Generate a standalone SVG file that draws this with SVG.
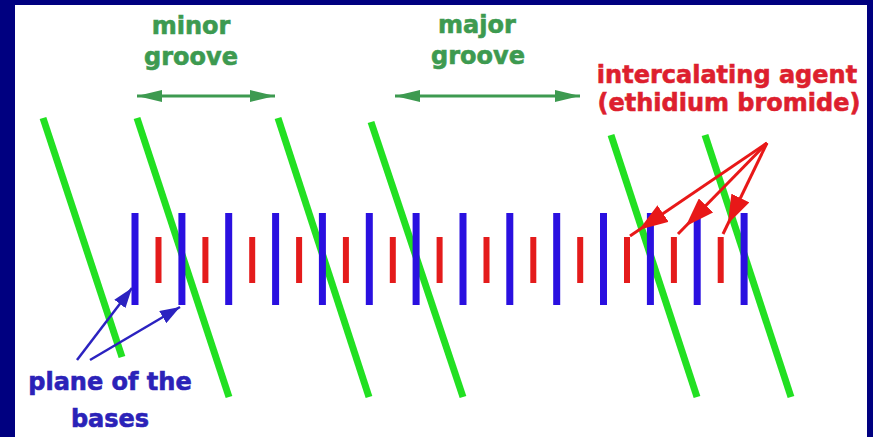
<svg xmlns="http://www.w3.org/2000/svg" width="873" height="437" viewBox="0 0 873 437">
  <defs>
    <style>
      .lbl { font-family: "DejaVu Sans", Verdana, sans-serif; font-weight: bold; font-size: 24px; text-anchor: middle; stroke-width: 0.6; }
      .green-t { fill: #3d9a50; stroke: #3d9a50; }
      .red-t { fill: #dd1f2e; stroke: #dd1f2e; }
      .blue-t { fill: #2b22b8; stroke: #2b22b8; }
      .strand { stroke: #22e022; stroke-width: 7; fill: none; }
      .blue-bar { fill: #2a10e0; }
      .red-bar { fill: #e41b1b; }
      .garrow { stroke: #3d9a50; stroke-width: 3; fill: none; }
      .rarrow { stroke: #e81818; stroke-width: 3; fill: none; }
      .barrow { stroke: #2b22c0; stroke-width: 2.5; fill: none; }
    </style>
    <marker id="gh" markerUnits="userSpaceOnUse" markerWidth="26" markerHeight="14" refX="25" refY="7" orient="auto-start-reverse">
      <path d="M0,1 L25,7 L0,13 z" fill="#3d9a50"/>
    </marker>
    <marker id="rh" markerUnits="userSpaceOnUse" markerWidth="44" markerHeight="20" refX="40" refY="10" orient="auto">
      <path d="M0,0 L29,10 L0,20 z" fill="#e81818"/>
    </marker>
    <marker id="bh" markerUnits="userSpaceOnUse" markerWidth="22" markerHeight="14" refX="20" refY="7" orient="auto">
      <path d="M0,0 L20,7 L0,14 z" fill="#2b22c0"/>
    </marker>
  </defs>

  <rect x="0" y="0" width="873" height="437" fill="#000080"/>
  <rect x="15" y="5" width="852" height="432" fill="#ffffff"/>

  <g id="strands">
    <line class="strand" x1="43" y1="118" x2="122" y2="357"/>
    <line class="strand" x1="137" y1="118" x2="229" y2="397"/>
    <line class="strand" x1="278" y1="118" x2="369" y2="397"/>
    <line class="strand" x1="371" y1="122" x2="463" y2="397"/>
    <line class="strand" x1="611" y1="135" x2="697" y2="397"/>
    <line class="strand" x1="705" y1="135" x2="791" y2="397"/>
  </g>

  <g id="base-planes">
    <rect class="blue-bar" x="131.5" y="213" width="7" height="92"/>
    <rect class="blue-bar" x="178.4" y="213" width="7" height="92"/>
    <rect class="blue-bar" x="225.2" y="213" width="7" height="92"/>
    <rect class="blue-bar" x="272.1" y="213" width="7" height="92"/>
    <rect class="blue-bar" x="318.9" y="213" width="7" height="92"/>
    <rect class="blue-bar" x="365.8" y="213" width="7" height="92"/>
    <rect class="blue-bar" x="412.6" y="213" width="7" height="92"/>
    <rect class="blue-bar" x="459.5" y="213" width="7" height="92"/>
    <rect class="blue-bar" x="506.3" y="213" width="7" height="92"/>
    <rect class="blue-bar" x="553.2" y="213" width="7" height="92"/>
    <rect class="blue-bar" x="600" y="213" width="7" height="92"/>
    <rect class="blue-bar" x="646.9" y="213" width="7" height="92"/>
    <rect class="blue-bar" x="693.7" y="213" width="7" height="92"/>
    <rect class="blue-bar" x="740.6" y="213" width="7" height="92"/>
  </g>

  <g id="intercalators">
    <rect class="red-bar" x="155.5" y="237" width="6" height="46"/>
    <rect class="red-bar" x="202.4" y="237" width="6" height="46"/>
    <rect class="red-bar" x="249.2" y="237" width="6" height="46"/>
    <rect class="red-bar" x="296.1" y="237" width="6" height="46"/>
    <rect class="red-bar" x="342.9" y="237" width="6" height="46"/>
    <rect class="red-bar" x="389.8" y="237" width="6" height="46"/>
    <rect class="red-bar" x="436.6" y="237" width="6" height="46"/>
    <rect class="red-bar" x="483.5" y="237" width="6" height="46"/>
    <rect class="red-bar" x="530.3" y="237" width="6" height="46"/>
    <rect class="red-bar" x="577.2" y="237" width="6" height="46"/>
    <rect class="red-bar" x="624" y="237" width="6" height="46"/>
    <rect class="red-bar" x="670.9" y="237" width="6" height="46"/>
    <rect class="red-bar" x="717.7" y="237" width="6" height="46"/>
  </g>

  <g id="label-minor-groove">
    <text class="lbl green-t" x="191" y="34">minor</text>
    <text class="lbl green-t" x="191" y="65">groove</text>
  </g>
  <g id="label-major-groove">
    <text class="lbl green-t" x="477" y="33">major</text>
    <text class="lbl green-t" x="478" y="64">groove</text>
  </g>
  <g id="label-intercalating-agent">
    <text class="lbl red-t" x="727" y="83">intercalating agent</text>
    <text class="lbl red-t" x="729" y="111">(ethidium bromide)</text>
  </g>
  <g id="label-plane-of-bases">
    <text class="lbl blue-t" x="110" y="390">plane of the</text>
    <text class="lbl blue-t" x="110" y="427">bases</text>
  </g>

  <g id="connectors">
    <line class="garrow" x1="137" y1="96" x2="275" y2="96" marker-start="url(#gh)" marker-end="url(#gh)"/>
    <line class="garrow" x1="395" y1="96" x2="580" y2="96" marker-start="url(#gh)" marker-end="url(#gh)"/>
    <line class="rarrow" x1="767" y1="143" x2="630" y2="236" marker-end="url(#rh)"/>
    <line class="rarrow" x1="767" y1="143" x2="678" y2="234" marker-end="url(#rh)"/>
    <line class="rarrow" x1="767" y1="143" x2="723" y2="234" marker-end="url(#rh)"/>
    <line class="barrow" x1="77" y1="360" x2="132" y2="288" marker-end="url(#bh)"/>
    <line class="barrow" x1="90" y1="360" x2="180" y2="307" marker-end="url(#bh)"/>
  </g>
</svg>
